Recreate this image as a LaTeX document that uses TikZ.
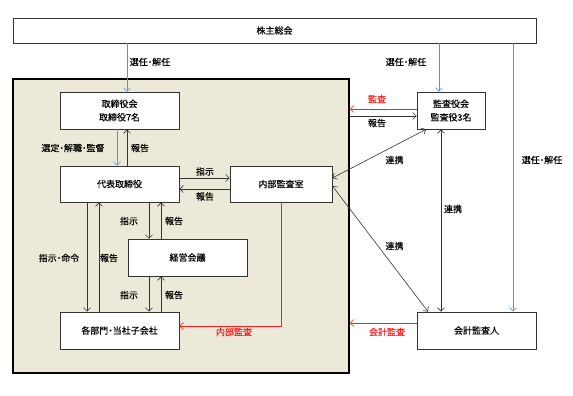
\documentclass[tikz,border=0pt]{standalone}
\usepackage{fontspec}
\setmainfont{Noto Sans CJK JP}[RawFeature=+palt,FakeBold=0.3]
\usetikzlibrary{arrows.meta}
\definecolor{bgbeige}{HTML}{ECE9D8}
\definecolor{lineblue}{HTML}{4A9ADB}
\definecolor{linegray}{HTML}{333333}
\definecolor{auditred}{HTML}{FF1E1E}
\tikzset{
  box/.style={draw=linegray, fill=white, line width=0.8pt, inner sep=0pt, align=center},
  tipb/.tip={Straight Barb[length=3.5pt,width=7pt,line width=0.6pt]},
  arr/.style={draw=linegray, line width=0.6pt, -tipb},
  barr/.style={draw=linegray, line width=0.6pt, tipb-tipb},
  blu/.style={draw=lineblue, line width=0.9pt, -tipb},
  redarr/.style={draw=auditred, line width=1pt, -tipb},
  lbl/.style={inner sep=0pt},
  redlbl/.style={inner sep=0pt, text=auditred}
}
\begin{document}
\begin{tikzpicture}[x=1pt,y=-1pt,font=\fontsize{9}{13.5}\selectfont]
\useasboundingbox (0,0) rectangle (573,396);

% group box
\node[draw=black, line width=1.6pt, fill=bgbeige, minimum width=336, minimum height=294, inner sep=0pt] (grp) at (181,226) {};

% boxes
\node[box, minimum width=523, minimum height=25] (sh) at (274.5,30.5) {株主総会};
\node[box, minimum width=119, minimum height=37] (tori) at (119.5,110.5) {取締役会\\取締役7名};
\node[box, minimum width=119, minimum height=36] (dai) at (119.5,184) {代表取締役};
\node[box, minimum width=102, minimum height=36] (naibu) at (281,184) {内部監査室};
\node[box, minimum width=119, minimum height=37] (keiei) at (187.5,257.5) {経営会議};
\node[box, minimum width=119, minimum height=37] (kaku) at (119.5,330.5) {各部門・当社子会社};
\node[box, minimum width=68, minimum height=37] (kansa) at (451,110.5) {監査役会\\監査役3名};
\node[box, minimum width=119, minimum height=37] (kaikei) at (476.5,330.5) {会計監査人};

% shareholders -> boards
\draw[blu] ([xshift=7.5]tori.north |- sh.south) -- ([xshift=7.5]tori.north);
\node[lbl] (l1) at (150,62) {選任・解任};
\draw[blu] ([xshift=-12]kansa.north |- sh.south) -- ([xshift=-12]kansa.north);
\node[lbl] (l2) at (406,62) {選任・解任};
\draw[blu] ([xshift=36.5]kaikei.north |- sh.south) -- ([xshift=36.5]kaikei.north);
\node[lbl] (l3) at (542,160) {選任・解任};

% board <-> representative
\draw[blu] ([xshift=-2.5]tori.south) -- ([xshift=-2.5]dai.north);
\node[lbl] (l4) at (73,148) {選定・解職・監督};
\draw[arr] ([xshift=7.5]dai.north) -- ([xshift=7.5]tori.south);
\node[lbl] (l5) at (140,148) {報告};

% representative <-> internal audit
\draw[arr] ([yshift=6]dai.east) -- ([yshift=6]naibu.west);
\node[lbl] (l6) at (205,171.5) {指示};
\draw[arr] ([yshift=-5]naibu.west) -- ([yshift=-5]dai.east);
\node[lbl] (l7) at (205,196.5) {報告};

% representative <-> management meeting
\draw[arr] ([xshift=-38.5]keiei.north |- dai.south) -- ([xshift=-38.5]keiei.north);
\draw[arr] ([xshift=-26.5]keiei.north) -- ([xshift=-26.5]keiei.north |- dai.south);
\node[lbl] (l8) at (129,221) {指示};
\node[lbl] (l9) at (174,221) {報告};

% management meeting <-> departments
\draw[arr] ([xshift=-38.5]keiei.south) -- ([xshift=-38.5]keiei.south |- kaku.north);
\draw[arr] ([xshift=-26.5]keiei.south |- kaku.north) -- ([xshift=-26.5]keiei.south);
\node[lbl] (l10) at (129,295) {指示};
\node[lbl] (l11) at (174,295) {報告};

% representative <-> departments
\draw[arr] ([xshift=-32.5]dai.south) -- ([xshift=-32.5]kaku.north);
\draw[arr] ([xshift=-20.5]kaku.north) -- ([xshift=-20.5]dai.south);
\node[lbl] (l12) at (59,258) {指示・命令};
\node[lbl] (l13) at (109,258) {報告};

% internal audit -> departments
\draw[redarr] (naibu.south) |- ([yshift=4.5]kaku.east);
\node[redlbl] (l14) at (234,332) {内部監査};

% audit board <-> group
\draw[redarr] ([yshift=1.5]kansa.west) -- ([yshift=1.5]kansa.west -| grp.east);
\node[redlbl] (l15) at (377,99) {監査};
\draw[arr] ([yshift=-5.5]kansa.west -| grp.east) -- ([yshift=-5.5]kansa.west);
\node[lbl] (l16) at (377,123) {報告};

% accounting auditor -> group
\draw[redarr] ([yshift=7.5]kaikei.west) -- ([yshift=7.5]kaikei.west -| grp.east);
\node[redlbl] (l17) at (387,332) {会計監査};

% cooperation
\draw[barr] ([xshift=-25]kansa.south) -- ([yshift=6]naibu.east);
\node[lbl] (l18) at (394.5,160) {連携};
\draw[barr] ([yshift=-2]naibu.east) -- ([xshift=-48.5]kaikei.north);
\node[lbl] (l19) at (394.5,246) {連携};
\draw[barr] ([xshift=-10]kansa.south) -- ([xshift=-35.5]kaikei.north);
\node[lbl] (l20) at (453,209) {連携};
\end{tikzpicture}
\end{document}
